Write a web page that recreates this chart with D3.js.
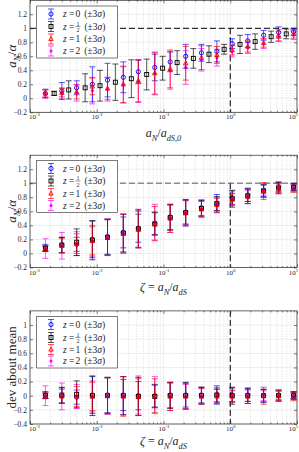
<!DOCTYPE html>
<html>
<head>
<meta charset="utf-8">
<script src="https://cdn.jsdelivr.net/npm/d3@7"></script>
<style>
body{margin:0;background:#fff}
svg{display:block}
text{font-family:"Liberation Serif","DejaVu Serif",serif;fill:#262626}
</style>
</head>
<body>
<svg id="fig" width="299" height="452"></svg>
<script>
// x positions (a_N / a_dS)
const xPts = [0.0017, 0.003, 0.005, 0.0086, 0.0145, 0.025, 0.042, 0.074, 0.126, 0.215, 0.37, 0.63, 1.07, 1.83, 3.16, 5.3, 8.9]
const xHalf = [0.0023, 0.0038, 0.0067, 0.0112, 0.019, 0.033, 0.056, 0.097, 0.16, 0.28, 0.48, 0.81, 1.4, 2.36, 4.1, 6.9]

// panel 1 : a_N/alpha vs a_N/a_dS,0
const p1Blue = [0.07, 0.105, 0.15, 0.2, 0.26, 0.3, 0.38, 0.44, 0.52, 0.6, 0.65, 0.67, 0.78, 0.82, 0.9, 0.94, 0.95]
const p1BlueErr = [0.06, 0.12, 0.1, 0.25, 0.24, 0.22, 0.17, 0.19, 0.14, 0.17, 0.12, 0.15, 0.07, 0.09, 0.07, 0.08, 0.05]
const p1Black = [0.07, 0.12, 0.15, 0.18, 0.23, 0.28, 0.34, 0.43, 0.51, 0.57, 0.63, 0.7, 0.77, 0.81, 0.88, 0.92]
const p1BlackErr = [0.03, 0.13, 0.2, 0.22, 0.26, 0.27, 0.22, 0.17, 0.17, 0.14, 0.12, 0.07, 0.13, 0.11, 0.08, 0.07]
const p1Red = [0.07, 0.08, 0.09, 0.17, 0.14, 0.2, 0.25, 0.36, 0.42, 0.5, 0.58, 0.62, 0.69, 0.74, 0.79, 0.9, 0.92]
const p1RedErr = [0.05, 0.06, 0.1, 0.12, 0.16, 0.26, 0.3, 0.3, 0.27, 0.24, 0.17, 0.12, 0.07, 0.08, 0.06, 0.08, 0.06]
const p1Mag = [0.06, 0.07, 0.08, 0.11, 0.13, 0.19, 0.24, 0.35, 0.4, 0.44, 0.55, 0.58, 0.67, 0.72, 0.78, 0.88, 0.9]
const p1MagErr = [0.06, 0.08, 0.12, 0.19, 0.17, 0.26, 0.3, 0.3, 0.27, 0.24, 0.16, 0.12, 0.08, 0.08, 0.07, 0.07, 0.06]

// panel 2 : a_N/alpha vs zeta
const p2Blue = [0.08, 0.12, 0.13, 0.2, 0.24, 0.3, 0.36, 0.43, 0.52, 0.59, 0.65, 0.71, 0.79, 0.83, 0.9, 0.95, 0.95]
const p2BlueErr = [0.05, 0.11, 0.1, 0.26, 0.25, 0.22, 0.2, 0.16, 0.18, 0.17, 0.11, 0.13, 0.1, 0.09, 0.09, 0.07, 0.05]
const p2Black = [0.07, 0.12, 0.16, 0.19, 0.23, 0.29, 0.35, 0.42, 0.51, 0.58, 0.64, 0.71, 0.78, 0.82, 0.89, 0.93, 0.94]
const p2BlackErr = [0.04, 0.11, 0.19, 0.28, 0.25, 0.27, 0.27, 0.16, 0.18, 0.19, 0.12, 0.1, 0.12, 0.11, 0.09, 0.08, 0.05]
const p2Red = [0.07, 0.11, 0.14, 0.18, 0.23, 0.28, 0.34, 0.43, 0.5, 0.58, 0.63, 0.69, 0.77, 0.81, 0.89, 0.93, 0.93]
const p2RedErr = [0.04, 0.1, 0.14, 0.2, 0.26, 0.28, 0.26, 0.24, 0.2, 0.18, 0.11, 0.1, 0.08, 0.1, 0.12, 0.07, 0.06]
const p2Mag = [0.07, 0.11, 0.14, 0.18, 0.23, 0.29, 0.36, 0.44, 0.5, 0.58, 0.64, 0.7, 0.78, 0.82, 0.9, 0.93, 0.94]
const p2MagErr = [0.14, 0.19, 0.17, 0.22, 0.26, 0.27, 0.27, 0.26, 0.2, 0.17, 0.11, 0.09, 0.08, 0.08, 0.07, 0.06, 0.05]

// panel 3 : deviation about mean (same 3 sigma bars as panel 2)
const p3Blue = [0.01, 0, -0.02, 0.01, 0.01, 0.01, 0, 0, 0.01, 0.01, 0.01, 0.01, 0.01, 0.01, 0, 0.01, 0.01]
const p3Black = [0, 0.01, 0.02, 0, 0, 0, -0.01, -0.01, 0, 0, 0, 0.01, 0, 0, 0, 0, 0]
const p3Red = [0, -0.01, -0.01, -0.01, 0, -0.01, -0.02, 0, -0.01, -0.01, -0.01, -0.01, -0.01, -0.01, 0, 0, -0.01]
const p3Mag = [0, -0.01, -0.01, -0.01, 0, 0, 0.01, 0.01, -0.01, -0.01, 0, 0, 0, 0, 0, 0, 0]

const yTicks12 = [-0.2, 0, 0.2, 0.4, 0.6, 0.8, 1, 1.2]
const yTicks3 = [-0.4, -0.2, 0, 0.2, 0.4, 0.6, 0.8, 1]
const decades = [1e-3, 1e-2, 1e-1, 1, 10]
const legendNums = ['0', '1/2', '1', '2']

const svg = d3.select('#fig')
const x = d3.scaleLog().domain([1e-3, 10]).range([30, 297])
const minorX = []
decades.slice(0, 4).forEach(d => { for (let k = 2; k <= 9; k++) minorX.push(d * k) })

const styles = [
  {color: '#0000ff', marker: 'circle'},
  {color: '#000000', marker: 'square'},
  {color: '#ff0000', marker: 'triangle'},
  {color: '#ff00ff', marker: 'dot'}
]
const drawOrder = [3, 0, 1, 2] // magenta underneath, red on top

// rich text helper: parts like {t:'a', i:1, sub:1}
const rich = (t, parts, fs) => {
  let shift = 0
  parts.forEach(p => {
    const target = p.sub ? fs * 0.3 : p.sup ? -fs * 0.42 : 0
    const ts = t.append('tspan').text(p.t).attr('dy', target - shift)
    if (p.i) ts.attr('font-style', 'italic')
    if (p.sub || p.sup) ts.attr('font-size', fs * 0.7)
    shift = target
  })
}

const drawMarker = (g, type, cx, cy, color) => {
  if (type === 'circle') g.append('circle').attr('cx', cx).attr('cy', cy).attr('r', 2.1).attr('fill', 'none').attr('stroke', color).attr('stroke-width', 0.9)
  else if (type === 'square') g.append('rect').attr('x', cx - 2).attr('y', cy - 2).attr('width', 4).attr('height', 4).attr('fill', 'none').attr('stroke', color).attr('stroke-width', 0.9)
  else if (type === 'triangle') g.append('path').attr('d', `M${cx},${cy - 2.4}L${cx + 2.2},${cy + 1.6}L${cx - 2.2},${cy + 1.6}Z`).attr('fill', 'none').attr('stroke', color).attr('stroke-width', 0.9)
  else g.append('circle').attr('cx', cx).attr('cy', cy).attr('r', 1.5).attr('fill', color)
}

const drawBar = (g, cx, y1, y2, color) => {
  g.append('line').attr('x1', cx).attr('x2', cx).attr('y1', y1).attr('y2', y2)
  g.append('line').attr('x1', cx - 3).attr('x2', cx + 3).attr('y1', y1).attr('y2', y1)
  g.append('line').attr('x1', cx - 3).attr('x2', cx + 3).attr('y1', y2).attr('y2', y2)
  g.selectAll('line').attr('stroke', color).attr('stroke-width', 0.9).attr('stroke-opacity', 0.75)
}

const panels = [
  {top: 0.3, bottom: 112.3, ydom: [-0.2, 1.4], yticks: yTicks12, hline: '#000000', hw: 1, vFromOne: true,
    series: [[xPts, p1Blue, p1BlueErr], [xHalf, p1Black, p1BlackErr], [xPts, p1Red, p1RedErr], [xPts, p1Mag, p1MagErr]],
    ylabel: [{t: 'a', i: 1}, {t: 'N', i: 1, sub: 1}, {t: '/'}, {t: 'α', i: 1}],
    xlabel: [{t: 'a', i: 1}, {t: 'N', i: 1, sub: 1}, {t: '/'}, {t: 'a', i: 1}, {t: 'dS,0', i: 1, sub: 1}],
    xlabY: 137, legY: [14, 26.5, 39, 51]},
  {top: 155.2, bottom: 267.5, ydom: [-0.2, 1.4], yticks: yTicks12, hline: '#8c8c8c', hw: 1.6, vFromOne: true,
    series: [[xPts, p2Blue, p2BlueErr], [xPts, p2Black, p2BlackErr], [xPts, p2Red, p2RedErr], [xPts, p2Mag, p2MagErr]],
    ylabel: [{t: 'a', i: 1}, {t: 'N', i: 1, sub: 1}, {t: '/'}, {t: 'α', i: 1}],
    xlabel: [{t: 'ζ', i: 1}, {t: ' = '}, {t: 'a', i: 1}, {t: 'N', i: 1, sub: 1}, {t: '/'}, {t: 'a', i: 1}, {t: 'dS', i: 1, sub: 1}],
    xlabY: 291, legY: [168.5, 181, 193.5, 205.5]},
  {top: 310.9, bottom: 424, ydom: [-0.4, 1.2], yticks: yTicks3, hline: null, vFromOne: false,
    series: [[xPts, p3Blue, p2BlueErr], [xPts, p3Black, p2BlackErr], [xPts, p3Red, p2RedErr], [xPts, p3Mag, p2MagErr]],
    ylabel: [{t: 'dev about mean'}],
    xlabel: [{t: 'ζ', i: 1}, {t: ' = '}, {t: 'a', i: 1}, {t: 'N', i: 1, sub: 1}, {t: '/'}, {t: 'a', i: 1}, {t: 'dS', i: 1, sub: 1}],
    xlabY: 445, legY: [324.5, 337.5, 349.5, 361]}
]

panels.forEach(p => {
  const y = d3.scaleLinear().domain(p.ydom).range([p.bottom, p.top])
  const g = svg.append('g')
  const [x0, x1] = x.range()

  // grid
  g.append('g').selectAll('line').data(minorX).enter().append('line')
    .attr('x1', d => x(d)).attr('x2', d => x(d)).attr('y1', p.top).attr('y2', p.bottom)
    .attr('stroke', '#c8c8c8').attr('stroke-width', 0.6).attr('stroke-dasharray', '1,1.5')
  g.append('g').selectAll('line').data(decades).enter().append('line')
    .attr('x1', d => x(d)).attr('x2', d => x(d)).attr('y1', p.top).attr('y2', p.bottom)
    .attr('stroke', '#e3e3e3').attr('stroke-width', 0.6)
  g.append('g').selectAll('line').data(p.yticks).enter().append('line')
    .attr('x1', x0).attr('x2', x1).attr('y1', d => y(d)).attr('y2', d => y(d))
    .attr('stroke', '#e3e3e3').attr('stroke-width', 0.6)

  // reference lines
  if (p.hline) g.append('line').attr('x1', x0).attr('x2', x1).attr('y1', y(1)).attr('y2', y(1))
    .attr('stroke', p.hline).attr('stroke-width', p.hw).attr('stroke-dasharray', '6,3')
  g.append('line').attr('x1', x(1)).attr('x2', x(1)).attr('y1', p.vFromOne ? y(1) : p.top).attr('y2', p.bottom)
    .attr('stroke', '#000').attr('stroke-width', 1).attr('stroke-dasharray', '6,3')

  // data
  drawOrder.forEach(si => {
    const [xs, vals, errs] = p.series[si]
    const sg = g.append('g')
    vals.forEach((v, i) => {
      const cx = x(xs[i])
      drawBar(sg.append('g'), cx, y(v + errs[i]), y(v - errs[i]), styles[si].color)
      drawMarker(sg, styles[si].marker, cx, y(v), styles[si].color)
    })
  })

  // axes with inward ticks
  const ax = d3.axisBottom(x).tickValues(decades).tickSize(-3).tickPadding(7).tickFormat(() => '')
  const axG = g.append('g').attr('transform', `translate(0,${p.bottom})`).call(ax)
  axG.selectAll('.tick text').each(function (d, i) {
    const t = d3.select(this).attr('font-size', 7).attr('font-family', '"Liberation Serif",serif')
    if (i === 0) t.attr('x', 4)
    if (i === decades.length - 1) t.attr('x', -4)
    rich(t, [{t: '10'}, {t: String(Math.round(Math.log10(d))), sup: 1}], 7)
  })
  g.append('g').attr('transform', `translate(0,${p.bottom})`).call(d3.axisBottom(x).tickValues(minorX).tickSize(-1.5).tickFormat(''))
  g.append('g').attr('transform', `translate(0,${p.top})`).call(d3.axisTop(x).tickValues(decades).tickSize(-3).tickFormat(''))
  g.append('g').attr('transform', `translate(0,${p.top})`).call(d3.axisTop(x).tickValues(minorX).tickSize(-1.5).tickFormat(''))
  g.append('g').attr('transform', `translate(${x0},0)`).call(d3.axisLeft(y).tickValues(p.yticks).tickSize(-3).tickPadding(3).tickFormat(d3.format('')))
    .selectAll('text').attr('font-size', 7.5).attr('font-family', '"Liberation Serif",serif')
  g.append('g').attr('transform', `translate(${x1},0)`).call(d3.axisRight(y).tickValues(p.yticks).tickSize(-3).tickFormat(''))
  g.selectAll('.domain').remove()
  g.selectAll('.tick line').attr('stroke', '#262626').attr('stroke-width', 0.6)
  g.append('rect').attr('x', x0).attr('y', p.top).attr('width', x1 - x0).attr('height', p.bottom - p.top)
    .attr('fill', 'none').attr('stroke', '#262626').attr('stroke-width', 0.7)

  // axis labels
  rich(g.append('text').attr('x', (x0 + x1) / 2).attr('y', p.xlabY).attr('text-anchor', 'middle').attr('font-size', 12), p.xlabel, 12)
  const cy = (p.top + p.bottom) / 2
  rich(g.append('text').attr('transform', `translate(16,${cy}) rotate(-90)`).attr('text-anchor', 'middle').attr('font-size', 13), p.ylabel, 13)

  // legend
  const lg = g.append('g')
  lg.append('rect').attr('x', 36.7).attr('y', p.legY[0] - 8).attr('width', 80.6).attr('height', p.legY[3] - p.legY[0] + 15)
    .attr('fill', '#fff').attr('stroke', '#262626').attr('stroke-width', 0.6)
  legendNums.forEach((num, i) => {
    const ly = p.legY[i]
    const c = styles[i].color
    drawBar(lg.append('g'), 51, ly - 5, ly + 5, c)
    drawMarker(lg, styles[i].marker, 51, ly, c)
    const t1 = lg.append('text').attr('x', 63).attr('y', ly + 3).attr('font-size', 9.5)
    t1.append('tspan').attr('font-style', 'italic').text('z')
    t1.append('tspan').text(' = ')
    let cx = 63 + t1.node().getComputedTextLength() + 1
    if (num === '1/2') {
      lg.append('text').attr('x', cx + 2.5).attr('y', ly - 1).attr('font-size', 6).attr('text-anchor', 'middle').text('1')
      lg.append('text').attr('x', cx + 2.5).attr('y', ly + 5.5).attr('font-size', 6).attr('text-anchor', 'middle').text('2')
      lg.append('line').attr('x1', cx).attr('x2', cx + 5).attr('y1', ly).attr('y2', ly).attr('stroke', '#262626').attr('stroke-width', 0.5)
      cx += 5
    } else {
      const t2 = lg.append('text').attr('x', cx).attr('y', ly + 3).attr('font-size', 9.5).text(num)
      cx += t2.node().getComputedTextLength()
    }
    const t3 = lg.append('text').attr('x', cx + 4).attr('y', ly + 3).attr('font-size', 9.5)
    t3.append('tspan').text('(±3')
    t3.append('tspan').attr('font-style', 'italic').text('σ')
    t3.append('tspan').text(')')
  })
})
</script>
</body>
</html>
